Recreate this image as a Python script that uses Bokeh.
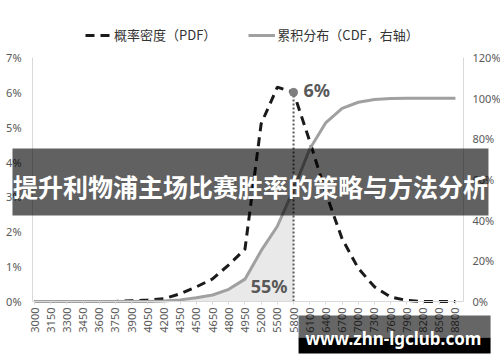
import math
from bokeh.plotting import figure
from bokeh.models import (Range1d, LinearAxis, FixedTicker, PrintfTickFormatter, Legend,
                          LegendItem, BoxAnnotation, Label, ColumnDataSource)
from bokeh.embed import file_html
from bokeh.resources import INLINE

# ---------------- data ----------------
categories = ["3000", "3150", "3300", "3450", "3600", "3750", "3900", "4050", "4200",
              "4350", "4500", "4650", "4800", "4950", "5200", "5500", "5800", "6100",
              "6400", "6700", "7000", "7300", "7600", "7900", "8200", "8500", "8800"]
pdf_values = [0, 0, 0, 0, 0, 0, 0.02, 0.04, 0.08, 0.22, 0.42, 0.65, 1.05, 1.5, 5.1,
              6.15, 6.0, 4.6, 3.1, 1.8, 0.95, 0.42, 0.13, 0.03, 0, 0, 0]
cdf_values = [0, 0, 0, 0, 0, 0, 0, 0, 0.2, 0.8, 1.8, 3.2, 6, 11, 25,
              37, 55, 75, 88, 95, 98, 99.3, 99.8, 100, 100, 100, 100]
left_ticks = [0, 1, 2, 3, 4, 5, 6, 7]
right_ticks = [0, 20, 40, 60, 80, 100, 120]
marker_index = 16          # 5800
marker_pdf_label = "6%"
marker_cdf_label = "55%"
legend_labels = ["概率密度（PDF）", "累积分布（CDF，右轴）"]
banner_text = "提升利物浦主场比赛胜率的策略与方法分析"
watermark_text = "www.zhn-lgclub.com"

xs = list(range(len(categories)))
src = ColumnDataSource(dict(x=xs, pdf=pdf_values, cdf=cdf_values))
shade = ColumnDataSource(dict(x=xs[:marker_index + 1],
                              y0=[0] * (marker_index + 1),
                              y1=cdf_values[:marker_index + 1]))

FONT = "Noto Sans"
CJK = "Noto Sans CJK SC"
TICK_COLOR = "#595959"
AXIS_COLOR = "#d9d9d9"

# plot area: x-span of axes -0.12..26.5, left axis 0..7, right axis 0..120
X_LO, X_HI = -0.12, 26.5
# the frame covers the whole canvas; ranges extended so axes sit at the chart's edges
PX_X = 16.19
PX_Y = 34.857
x_range = Range1d(-34 / PX_X, (500 - 34) / PX_X)
y_range = Range1d(-61 / PX_Y, 301 / PX_Y)
cdf_range = Range1d(-61 / PX_Y * (120 / 7), 301 / PX_Y * (120 / 7))

p = figure(width=500, height=362, output_backend="svg", toolbar_location=None,
           x_range=x_range, y_range=y_range, min_border=0)
p.extra_y_ranges = {"cdf": cdf_range}
p.outline_line_color = None
p.xgrid.visible = False
p.ygrid.visible = False
p.background_fill_color = "white"
p.border_fill_color = "white"

# shaded area under CDF up to marker
p.varea(x="x", y1="y0", y2="y1", source=shade, fill_color="#e9e9e9",
        y_range_name="cdf")

pdf_r = p.line("x", "pdf", source=src, line_color="#1a1a1a", line_width=3,
               line_dash="9 6")
cdf_r = p.line("x", "cdf", source=src, line_color="#a0a0a0", line_width=3,
               y_range_name="cdf")

# dotted marker line and point
p.segment(x0=[xs[marker_index]], y0=[0], x1=[xs[marker_index]],
          y1=[pdf_values[marker_index]], line_color="#595959", line_width=2,
          line_dash="2 2")
p.scatter(x=[xs[marker_index]], y=[pdf_values[marker_index]], size=8,
          fill_color="#7f7f7f", line_color="#7f7f7f")

p.add_layout(Label(x=xs[marker_index], y=pdf_values[marker_index], text=marker_pdf_label,
                   x_offset=10, y_offset=2, text_font=FONT, text_font_size="18px",
                   text_font_style="bold", text_color="#595959",
                   text_baseline="middle", text_align="left"))
p.add_layout(Label(x=xs[marker_index], y=0, text=marker_cdf_label,
                   x_offset=-6, y_offset=16, text_font=FONT, text_font_size="18px",
                   text_font_style="bold", text_color="#595959",
                   text_baseline="middle", text_align="right"))

# axes (fixed inside the full-canvas frame)
xa = p.xaxis[0]
xa.fixed_location = 0
xa.bounds = (X_LO, X_HI)
xa.ticker = FixedTicker(ticks=xs)
xa.major_label_overrides = {i: c for i, c in enumerate(categories)}
xa.major_label_orientation = math.pi / 2
xa.axis_line_color = AXIS_COLOR
xa.major_tick_line_color = AXIS_COLOR
xa.major_tick_out = 3
xa.major_tick_in = 0
xa.minor_tick_line_color = None
xa.major_label_standoff = 3
xa.major_label_text_font = FONT
xa.major_label_text_font_size = "11px"
xa.major_label_text_color = TICK_COLOR

ya = p.yaxis[0]
ya.fixed_location = X_LO
ya.bounds = (0, 7)
ya.ticker = FixedTicker(ticks=left_ticks)
ya.formatter = PrintfTickFormatter(format="%d%%")
ya.axis_line_color = AXIS_COLOR
ya.major_tick_line_color = None
ya.major_tick_out = 0
ya.major_tick_in = 0
ya.minor_tick_line_color = None
ya.major_label_standoff = 11
ya.major_label_text_font = FONT
ya.major_label_text_font_size = "11px"
ya.major_label_text_color = TICK_COLOR

ry = LinearAxis(y_range_name="cdf", ticker=FixedTicker(ticks=right_ticks),
                formatter=PrintfTickFormatter(format="%d%%"))
ry.fixed_location = X_HI
ry.bounds = (0, 120)
ry.axis_line_color = AXIS_COLOR
ry.major_tick_line_color = None
ry.major_tick_out = 0
ry.major_tick_in = 0
ry.minor_tick_line_color = None
ry.major_label_standoff = 9
ry.major_label_text_font = FONT
ry.major_label_text_font_size = "11px"
ry.major_label_text_color = TICK_COLOR
p.add_layout(ry, "right")

# legend
legend = Legend(items=[LegendItem(label=legend_labels[0], renderers=[pdf_r]),
                       LegendItem(label=legend_labels[1], renderers=[cdf_r])],
                orientation="horizontal", location=(85, 318),
                border_line_color=None, background_fill_alpha=0,
                label_text_font=CJK, label_text_font_size="13px",
                label_text_color="#333333", glyph_width=27, glyph_height=14,
                spacing=32, label_standoff=2, padding=0, margin=0)
p.add_layout(legend, "center")

# banner overlay
p.add_layout(BoxAnnotation(left=-1.36, right=28.04, bottom=2.467, top=4.39,
                           fill_color="black", fill_alpha=0.62, line_color=None))
p.add_layout(Label(x=13.34, y=3.30, text=banner_text, text_font=CJK,
                   text_font_size="25px", text_font_style="bold", text_color="white",
                   text_align="center", text_baseline="middle"))

# watermark
p.add_layout(BoxAnnotation(left=16.31, right=28.17, bottom=-1.03, top=-0.40,
                           fill_color="black", fill_alpha=0.6, line_color=None))
p.add_layout(BoxAnnotation(left=16.31, right=28.17, bottom=-1.49, top=-1.03,
                           fill_color="black", fill_alpha=1.0, line_color=None))
p.add_layout(Label(x=22.17, y=-1.05, text=watermark_text, text_font=FONT,
                   text_font_size="17px", text_font_style="bold", text_color="white",
                   text_align="center", text_baseline="middle"))

open("out.html", "w").write(file_html(p, INLINE))
